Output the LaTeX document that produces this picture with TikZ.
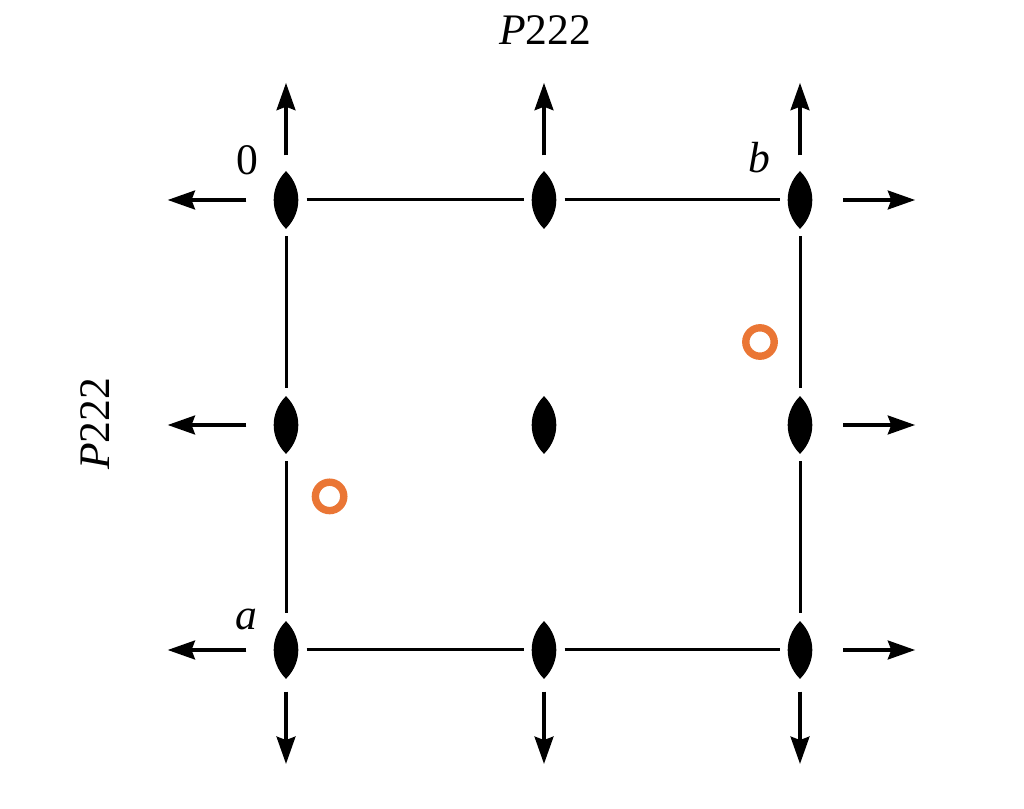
\documentclass[tikz,border=0pt]{standalone}
\usepackage{fontspec}
\setmainfont{Liberation Serif}
\usepackage{tikz}
\usetikzlibrary{arrows.meta,positioning}
\definecolor{SiteOrange}{RGB}{234,118,53}
\tikzset{
  every node/.style={
    font=\fontsize{31}{36}\selectfont
  },
  lens/.style={
    shape=rectangle,
    minimum width=0.625cm,
    minimum height=1.425cm,
    inner sep=0pt,
    outer sep=0.2cm
  },
  lens fill/.style={
    fill=black,
    draw=black,
    line width=0.03cm,
    line join=miter
  },
  axis line/.style={
    line width=0.075cm
  },
  vec/.style={
    line width=0.12cm,
    -{Stealth[length=0.68cm,width=0.46cm,inset=0.08cm]}
  },
  site/.style={
    shape=circle,
    draw=SiteOrange,
    line width=0.185cm,
    minimum size=0.71cm,
    inner sep=0pt
  }
}

\begin{document}
\begin{tikzpicture}

\useasboundingbox (0,0) rectangle (25.6,20.2);

% twofold axes
\foreach \r/\y in {t/15.2,m/9.575,b/3.95}
  \foreach \c/\x in {l/7.15,c/13.6,r/20.0} {
    \node [lens] (\r\c) at (\x,\y) {};
    \filldraw [lens fill] ([yshift=0.7cm]\r\c.center)
      .. controls ([xshift=0.39cm,yshift=0.3cm]\r\c.center)
      and ([xshift=0.39cm,yshift=-0.3cm]\r\c.center) .. ([yshift=-0.7cm]\r\c.center)
      .. controls ([xshift=-0.39cm,yshift=-0.3cm]\r\c.center)
      and ([xshift=-0.39cm,yshift=0.3cm]\r\c.center) .. ([yshift=0.7cm]\r\c.center)
      -- cycle;
  }

% cell edges
\foreach \p/\q in {tl/tc,tc/tr,bl/bc,bc/br,tl/ml,ml/bl,tr/mr,mr/br}
  \draw [axis line] (\p) -- (\q);

% arrows
\foreach \n in {tl,tc,tr} {
  \coordinate [above=2.02cm of \n] (\n up);
  \draw [vec,shorten <=0.2cm] (\n) -- (\n up);
}
\foreach \n in {bl,bc,br} {
  \coordinate [below=1.94cm of \n] (\n down);
  \draw [vec,shorten <=0.13cm] (\n) -- (\n down);
}
\foreach \n in {tl,ml,bl} {
  \coordinate [left=2.45cm of \n] (\n left);
  \draw [vec,shorten <=0.48cm] (\n) -- (\n left);
}
\foreach \n in {tr,mr,br} {
  \coordinate [right=2.37cm of \n] (\n right);
  \draw [vec,shorten <=0.57cm] (\n) -- (\n right);
}

% atoms
\node [site] (site b) at (19.0,11.65) {};
\node [site] (site a) at (8.24,7.79) {};

% labels
\node [anchor=base] (origin) at (6.175,15.825) {0};
\node [anchor=base] (label b) at (18.975,15.875) {\textit{b}};
\node [anchor=base] (label a) at (6.15,4.45) {\textit{a}};
\node [anchor=base] (title top) at (13.625,19.075) {\textit{P}222};
\node [rotate=90] (title left) at (2.375,9.6) {\textit{P}222};

\end{tikzpicture}
\end{document}
